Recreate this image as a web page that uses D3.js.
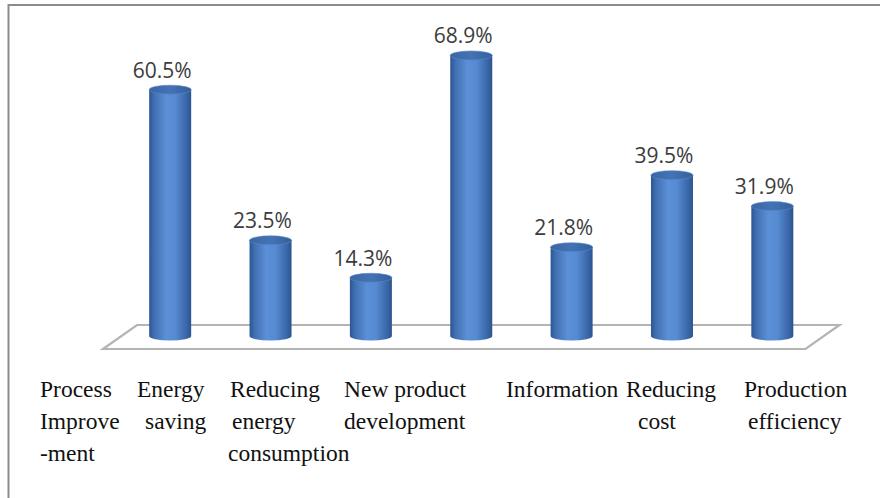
<!DOCTYPE html>
<html>
<head>
<meta charset="utf-8">
<script src="https://cdn.jsdelivr.net/npm/d3@7"></script>
<style>
  body { margin: 0; background: #fff; }
  svg { display: block; }
</style>
</head>
<body>
<svg id="chart" width="880" height="498"></svg>
<script>
// data
const categories = ['Process Improvement', 'Energy saving', 'Reducing energy consumption',
                    'New product development', 'Information', 'Reducing cost', 'Production efficiency'];
const values = [60.5, 23.5, 14.3, 68.9, 21.8, 39.5, 31.9];
const labelLines = [
    ['Process', 'Improve', '-ment'],
    ['Energy', 'saving'],
    ['Reducing', 'energy', 'consumption'],
    ['New product', 'development'],
    ['Information'],
    ['Reducing', 'cost'],
    ['Production', 'efficiency']
];

const svg = d3.select('#chart');

// outer frame (runs off the right and bottom edges)
svg.append('rect')
    .attr('x', 8.5).attr('y', 5)
    .attr('width', 900).attr('height', 600)
    .attr('fill', '#fff')
    .attr('stroke', '#8c8c8c')
    .attr('stroke-width', 2);

let x = d3.scaleBand()
    .domain(categories)
    .range([120, 822.5])
    .padding(0);

let y = d3.scaleLinear()
    .domain([0, 70])
    .range([336, 51]);

const depthX = 17, depthY = 12;
const rx = 21, ry = 4.5;

// floor
let x0 = x.range()[0], x1 = x.range()[1], y0 = y(0) + 1;
svg.append('path')
    .attr('d', `M${x0 - depthX},${y0 + depthY} L${x0 + depthX},${y0 - depthY} L${x1 + depthX},${y0 - depthY} L${x1 - depthX},${y0 + depthY} Z`)
    .attr('fill', '#fff')
    .attr('stroke', '#b4b4b4')
    .attr('stroke-width', 2.2);

// gradients
let defs = svg.append('defs');
let grad = defs.append('linearGradient').attr('id', 'cyl').attr('x1', 0).attr('x2', 1).attr('y1', 0).attr('y2', 0);
[['0%', '#2c5693'], ['12%', '#416fb2'], ['40%', '#5b8fd6'], ['62%', '#568ad2'], ['88%', '#3a68a9'], ['100%', '#2a548f']]
    .forEach(s => grad.append('stop').attr('offset', s[0]).attr('stop-color', s[1]));
let topGrad = defs.append('linearGradient').attr('id', 'cyltop').attr('x1', 0).attr('x2', 1).attr('y1', 0).attr('y2', 0);
[['0%', '#3a66a4'], ['50%', '#4473b4'], ['100%', '#34609c']]
    .forEach(s => topGrad.append('stop').attr('offset', s[0]).attr('stop-color', s[1]));

let bars = svg.selectAll('g.bar')
    .data(categories)
    .enter()
    .append('g')
    .classed('bar', true);

bars.append('path')
    .attr('d', (d, i) => {
        let cx = x(d) + x.bandwidth() / 2;
        let top = y(values[i]), base = y(0);
        return `M${cx - rx},${top} L${cx - rx},${base} A${rx},${ry} 0 0 0 ${cx + rx},${base} L${cx + rx},${top} Z`;
    })
    .attr('fill', 'url(#cyl)');

bars.append('ellipse')
    .attr('cx', d => x(d) + x.bandwidth() / 2)
    .attr('cy', (d, i) => y(values[i]))
    .attr('rx', rx)
    .attr('ry', ry)
    .attr('fill', 'url(#cyltop)')
    .attr('stroke', '#5a88c8')
    .attr('stroke-width', 0.6);

bars.append('text')
    .attr('x', d => x(d) + x.bandwidth() / 2 - 8)
    .attr('y', (d, i) => y(values[i]) - 12)
    .attr('text-anchor', 'middle')
    .attr('font-family', '"Open Sans", sans-serif')
    .attr('font-size', 21)
    .attr('fill', '#3c3c3c')
    .text((d, i) => values[i].toFixed(1) + '%');

// category labels, set like a table under the chart
const labelLeft = [[40, 40, 40], [137, 145], [230, 232, 228], [344, 344], [506], [626, 638], [744, 748]];
const lineHeight = 32, firstBaseline = 397;

labelLines.forEach((lines, c) => {
    lines.forEach((line, j) => {
        svg.append('text')
            .attr('x', labelLeft[c][j])
            .attr('y', firstBaseline + j * lineHeight)
            .attr('font-family', '"Liberation Serif", "Times New Roman", serif')
            .attr('font-size', 23.5)
            .attr('fill', '#111')
            .text(line);
    });
});
</script>
</body>
</html>
